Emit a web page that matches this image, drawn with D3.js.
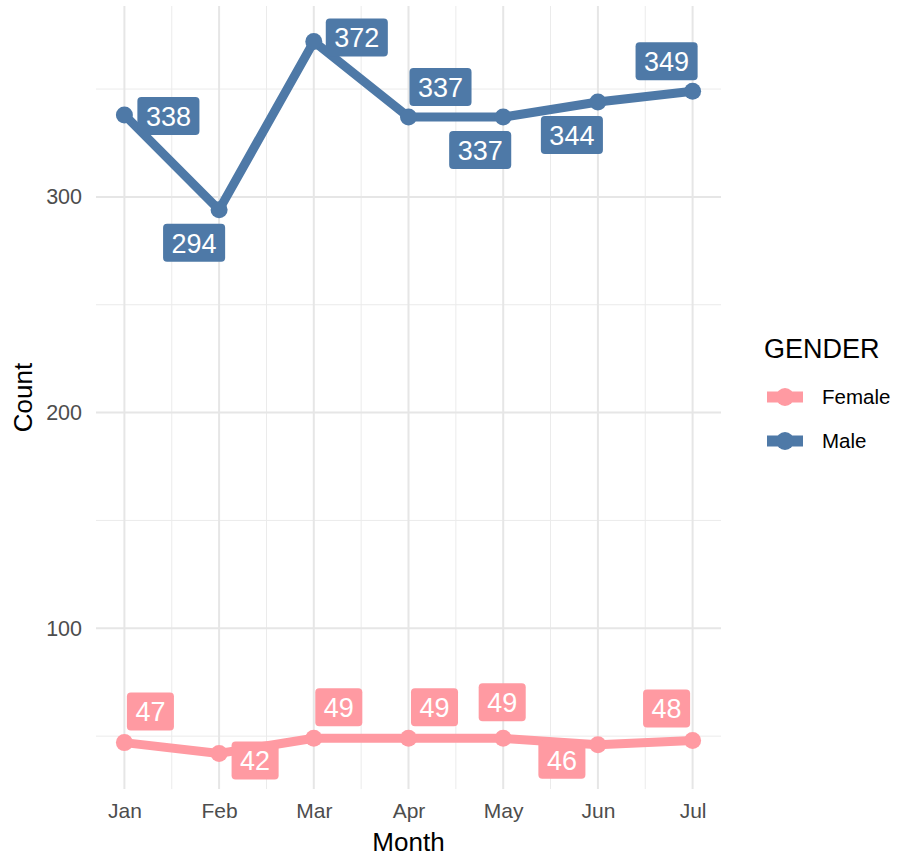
<!DOCTYPE html>
<html lang="en">
<head>
<meta charset="utf-8">
<style>
  body { margin: 0; background: #fff; }
  svg text { font-family: "Liberation Sans", Arial, sans-serif; }
</style>
<script src="https://cdn.jsdelivr.net/npm/d3@7"></script>
</head>
<body>
<script>
// data
const months = ["Jan", "Feb", "Mar", "Apr", "May", "Jun", "Jul"];
const female = [47, 42, 49, 49, 49, 46, 48];
const male = [338, 294, 372, 337, 337, 344, 349];
const yTicks = [100, 200, 300];
const yMinor = [50, 150, 250, 350];

// label nudges (repel-like placement), in px
const femaleNudge = [[26, -31], [36, 7], [25, -31], [26, -31], [-1, -36], [-36, 15], [-26, -32]];
const maleNudge = [[44, 1], [-25, 33], [43, -4], [32, -30], [-23, 33], [-26, 33], [-26, -30]];

const W = 898, H = 856;
const panel = {left: 96, right: 721, top: 6, bottom: 789};

const svg = d3.select("body").append("svg")
  .attr("width", W).attr("height", H);

// x is positional 1..7 with 5% expansion, like ggplot continuous
const x = d3.scaleLinear()
  .domain([0.7, 7.3])
  .range([panel.left, panel.right]);

const lo = d3.min(female), hi = d3.max(male), pad = (hi - lo) * 0.05;
const y = d3.scaleLinear()
  .domain([lo - pad, hi + pad])
  .range([panel.bottom, panel.top]);

// grid
const grid = svg.append("g");
grid.selectAll(".ymin").data(yMinor).enter().append("line")
  .attr("x1", panel.left).attr("x2", panel.right)
  .attr("y1", d => y(d)).attr("y2", d => y(d))
  .attr("stroke", "#ebebeb").attr("stroke-width", 1);
grid.selectAll(".xmin").data(d3.range(1.5, 7, 1)).enter().append("line")
  .attr("x1", d => x(d)).attr("x2", d => x(d))
  .attr("y1", panel.top).attr("y2", panel.bottom)
  .attr("stroke", "#ebebeb").attr("stroke-width", 1);
grid.selectAll(".ymaj").data(yTicks).enter().append("line")
  .attr("x1", panel.left).attr("x2", panel.right)
  .attr("y1", d => y(d)).attr("y2", d => y(d))
  .attr("stroke", "#e6e6e6").attr("stroke-width", 2);
grid.selectAll(".xmaj").data(months).enter().append("line")
  .attr("x1", (d, i) => x(i + 1)).attr("x2", (d, i) => x(i + 1))
  .attr("y1", panel.top).attr("y2", panel.bottom)
  .attr("stroke", "#e6e6e6").attr("stroke-width", 2);

// axes (text only, theme_minimal)
const yAxis = svg.append("g")
  .attr("transform", "translate(" + (panel.left - 7) + ",0)")
  .call(d3.axisLeft(y).tickValues(yTicks).tickSize(0).tickPadding(7));
yAxis.select(".domain").remove();
yAxis.selectAll("text").attr("font-size", 21.5).attr("fill", "#4d4d4d")
  .style("font-family", "Liberation Sans, Arial, sans-serif");

const xAxis = svg.append("g")
  .attr("transform", "translate(0," + (panel.bottom + 8) + ")")
  .call(d3.axisBottom(x).tickValues(d3.range(1, 8)).tickFormat(d => months[d - 1]).tickSize(0).tickPadding(6));
xAxis.select(".domain").remove();
xAxis.selectAll("text").attr("font-size", 21).attr("fill", "#4d4d4d")
  .style("font-family", "Liberation Sans, Arial, sans-serif");

svg.append("text")
  .attr("x", (panel.left + panel.right) / 2).attr("y", 851)
  .attr("text-anchor", "middle").attr("font-size", 26).text("Month");
svg.append("text")
  .attr("transform", "translate(32," + ((panel.top + panel.bottom) / 2) + ") rotate(-90)")
  .attr("text-anchor", "middle").attr("font-size", 26).text("Count");

const series = [
  {name: "Female", values: female, color: "#FF9AA2", nudge: femaleNudge},
  {name: "Male", values: male, color: "#4E79A7", nudge: maleNudge}
];

const line = d3.line().x((d, i) => x(i + 1)).y(d => y(d));

series.forEach(s => {
  svg.append("path")
    .datum(s.values)
    .attr("d", line)
    .attr("fill", "none")
    .attr("stroke", s.color)
    .attr("stroke-width", 9)
    .attr("stroke-linejoin", "round");
  svg.selectAll(null).data(s.values).enter().append("circle")
    .attr("cx", (d, i) => x(i + 1)).attr("cy", d => y(d))
    .attr("r", 8.5).attr("fill", s.color);
});

// labels
series.forEach(s => {
  s.values.forEach((v, i) => {
    const cx = x(i + 1) + s.nudge[i][0], cy = y(v) + s.nudge[i][1];
    const g = svg.append("g").attr("transform", "translate(" + cx + "," + cy + ")");
    const rect = g.append("rect").attr("fill", s.color).attr("rx", 4).attr("ry", 4);
    const t = g.append("text")
      .attr("text-anchor", "middle").attr("dy", "0.36em")
      .attr("font-size", 27).attr("fill", "#fff").text(v);
    const bw = t.node().getComputedTextLength() + 17, bh = 38;
    rect.attr("x", -bw / 2).attr("y", -bh / 2).attr("width", bw).attr("height", bh);
  });
});

// legend
const legend = svg.append("g").attr("transform", "translate(764,0)");
legend.append("text").attr("x", 0).attr("y", 358).attr("font-size", 27).text("GENDER");
series.forEach((s, i) => {
  const ly = 397 + i * 44;
  legend.append("line")
    .attr("x1", 3).attr("x2", 39).attr("y1", ly).attr("y2", ly)
    .attr("stroke", s.color).attr("stroke-width", 11);
  legend.append("circle").attr("cx", 21).attr("cy", ly).attr("r", 9).attr("fill", s.color);
  legend.append("text").attr("x", 58).attr("y", ly).attr("dy", "0.36em")
    .attr("font-size", 20.5).text(s.name);
});
</script>
</body>
</html>
